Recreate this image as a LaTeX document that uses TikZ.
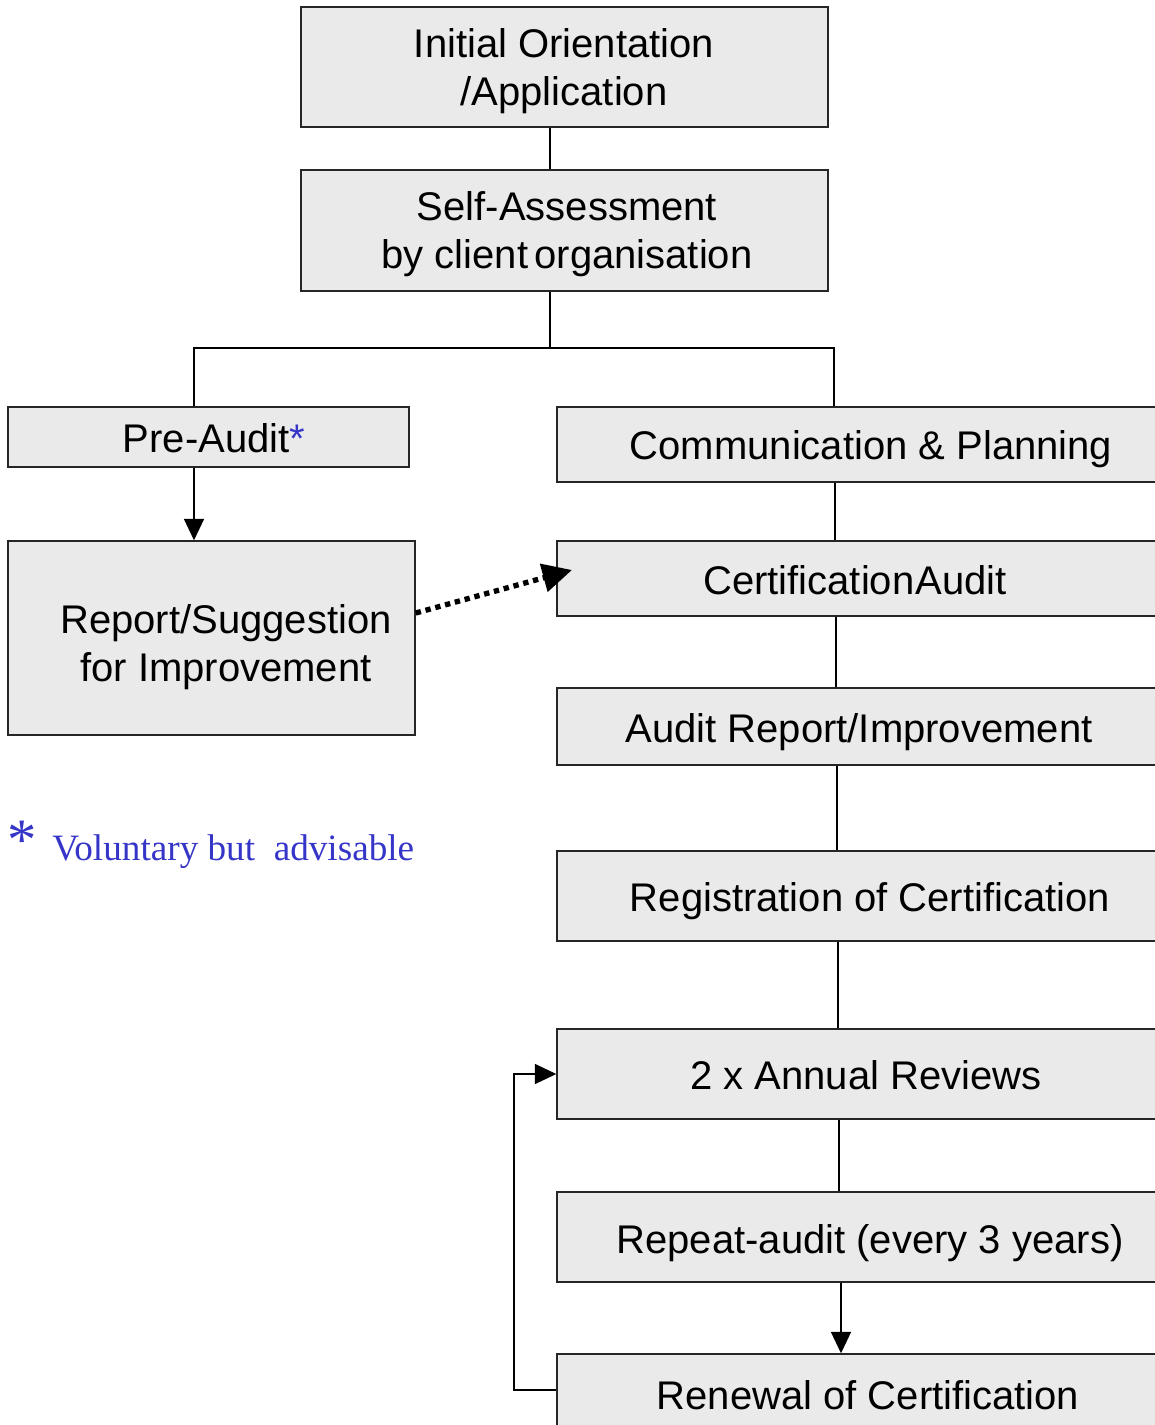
\documentclass[tikz,border=0pt]{standalone}
\usepackage{fontspec}
\setmainfont{Liberation Sans}
\newfontfamily\serifft{Liberation Serif}
\usetikzlibrary{arrows.meta,fit}
\definecolor{boxfill}{HTML}{EAEAEA}
\definecolor{boxline}{HTML}{262626}
\definecolor{noteblue}{HTML}{3535C8}
\begin{document}
\begin{tikzpicture}[x=0.75pt,y=-0.75pt,
  box/.style={draw=boxline, fill=boxfill, line width=1.1pt, inner sep=0pt},
  lbl/.style={font=\fontsize{30}{36}\selectfont, inner sep=0pt, align=center},
  conn/.style={draw=black, line width=1pt},
  arr/.style={conn, -{Triangle[length=16pt,width=15pt]}}]
\useasboundingbox (0,0) rectangle (1154,1425);
% boxes
\node[box, fit={(301,7) (828,127)}] (init) {};
\node[box, fit={(301,170) (828,291)}] (self) {};
\node[box, fit={(8,407) (409,467)}] (pre) {};
\node[box, fit={(8,541) (415,735)}] (report) {};
\node[box, fit={(557,407) (1170,482)}] (comm) {};
\node[box, fit={(557,541) (1170,616)}] (cert) {};
\node[box, fit={(557,688) (1170,765)}] (arep) {};
\node[box, fit={(557,851) (1170,941)}] (regi) {};
\node[box, fit={(557,1029) (1170,1119)}] (annual) {};
\node[box, fit={(557,1192) (1170,1282)}] (repeat) {};
\node[box, fit={(557,1354) (1170,1440)}] (renew) {};
% labels
\node[lbl] (tinit) at (564,71) {Initial Orientation\\/Application};
\node[lbl] (tself) at (567,234) {Self-Assessment\\by client\hspace{-0.12em} organisation};
\node[lbl, anchor=base] (tpre) at (214,452) {Pre-Audit{\color{noteblue}*}};
\node[lbl] (treport) at (226,647) {Report/Suggestion\\for Improvement};
\node[lbl, anchor=base] (tcomm) at (871,459) {Communication \& Planning};
\node[lbl, anchor=base] (tcert) at (855,594) {Certification\hspace{-0.25em} Audit};
\node[lbl, anchor=base] (tarep) at (859,742) {Audit Report/Improvement};
\node[lbl, anchor=base] (tregi) at (870,911) {Registration of Certification};
\node[lbl, anchor=base] (tannual) at (866,1089) {2 x Annual Reviews};
\node[lbl, anchor=base] (trepeat) at (870,1253) {Repeat-audit (every 3 years)};
\node[lbl, anchor=base] (trenew) at (868,1409) {Renewal of Certification};
% footnote
\node[inner sep=0pt, text=noteblue, font=\serifft\fontsize{44}{44}\selectfont] (ast) at (22,840) {*};
\node[inner sep=0pt, anchor=base west, text=noteblue, font=\serifft\fontsize{27.9}{30}\selectfont] (note) at (52,860) {Voluntary but \ advisable};
% coordinates
\coordinate (tA) at (550,348);
\coordinate (tL) at (194,348);
\coordinate (tR) at (834,348);
\coordinate (pl) at (194,0);
\coordinate (c1) at (835,0);
\coordinate (c2) at (836,0);
\coordinate (c3) at (837,0);
\coordinate (c4) at (838,0);
\coordinate (c5) at (839,0);
\coordinate (c6) at (841,0);
\coordinate (loopL) at (514,1390);
\coordinate (loopT) at (514,1074);
\coordinate (dotS) at (415,613);
\coordinate (dotE) at (572,570);
% connectors
\draw[conn] (init.south -| tA) -- (self.north -| tA);
\draw[conn] (self.south -| tA) -- (tA);
\draw[conn] (pre.north -| tL) -- (tL) -- (tR) -- (comm.north -| tR);
\draw[arr] (pre.south -| pl) -- (report.north -| pl);
\draw[conn] (comm.south -| c1) -- (cert.north -| c1);
\draw[conn] (cert.south -| c2) -- (arep.north -| c2);
\draw[conn] (arep.south -| c3) -- (regi.north -| c3);
\draw[conn] (regi.south -| c4) -- (annual.north -| c4);
\draw[conn] (annual.south -| c5) -- (repeat.north -| c5);
\draw[arr] (repeat.south -| c6) -- (renew.north -| c6);
\draw[arr] (renew.west |- loopL) -- (loopL) -- (loopT) -- (annual.west |- loopT);
\draw[line width=4pt, dash pattern=on 4pt off 3.6pt, -{Triangle[length=22pt,width=21pt]}] (report.east |- dotS) -- (dotE);
\end{tikzpicture}
\end{document}
